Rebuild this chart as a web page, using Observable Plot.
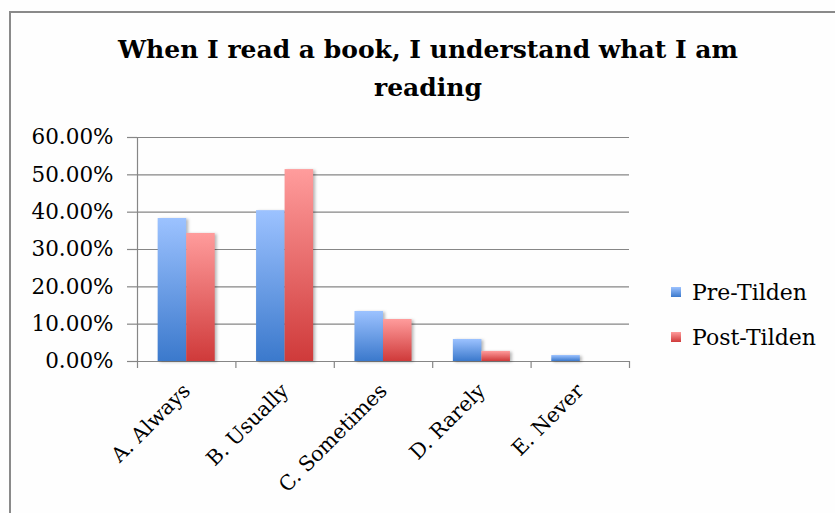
<!DOCTYPE html>
<html><head><meta charset="utf-8">
<script src="https://cdn.jsdelivr.net/npm/d3@7"></script>
<script src="https://cdn.jsdelivr.net/npm/@observablehq/plot@0.6"></script>
<style>
body{margin:0;background:#fff;}
#wrap{position:relative;width:835px;height:513px;overflow:hidden;font-family:"DejaVu Serif",serif;background:#fefefe;}
#frame{position:absolute;left:9px;top:11px;width:840px;height:520px;border:2px solid #8a8a8a;box-sizing:border-box;}
#title{position:absolute;left:68px;top:31px;width:720px;text-align:center;font-weight:bold;font-size:25px;line-height:38px;color:#000;}
#legend{position:absolute;left:671px;top:280px;font-size:22px;color:#000;}
.item{display:flex;align-items:center;height:24px;margin-bottom:21px;}
.sw{width:10px;height:10px;margin-right:11px;}
#chart{position:absolute;left:0;top:0;}
#chart rect.bar{filter:drop-shadow(2px 1px 1.5px rgba(0,0,0,0.28));}
</style></head>
<body>
<div id="wrap">
<div id="frame"></div>
<div id="chart"></div>
<div id="title">When I read a book, I understand what I am reading</div>
<div id="legend"></div>
</div>
<script>
const categories = ["A. Always","B. Usually","C. Sometimes","D. Rarely","E. Never"];
const seriesNames = ["Pre-Tilden","Post-Tilden"];
const preTilden  = [0.383,0.404,0.134,0.059,0.016];
const postTilden = [0.343,0.514,0.1125,0.027,0.0];
const yTicks = [0,0.1,0.2,0.3,0.4,0.5,0.6];

const gradients = {
  "Pre-Tilden":  ["#9cc2ff","#3b79cc"],
  "Post-Tilden": ["#ff9c9c","#cf3a3a"]
};

const barW = 0.29, gap = 0.21;
const rows = [];
categories.forEach((c,i)=>{
  [preTilden, postTilden].forEach((arr,s)=>{
    rows.push({category:c, series:seriesNames[s], i, s, value:arr[i],
      x1: i + gap + s*barW, x2: i + gap + (s+1)*barW});
  });
});

const chart = Plot.plot({
  width:835, height:513,
  marginTop:137, marginBottom:152, marginLeft:137, marginRight:206,
  style:{fontFamily:"DejaVu Serif", fontSize:"20px", color:"#000", background:"transparent", overflow:"visible"},
  x:{domain:[0,categories.length], axis:null, label:null},
  y:{domain:[0,0.6], axis:null, label:null},
  marks:[
    Plot.gridY(yTicks, {stroke:"#868686", strokeOpacity:1, strokeWidth:1.2}),
    Plot.axisY(yTicks, {tickSize:10, tickPadding:14, tickFormat:d3.format(".2%"), stroke:"#868686", strokeWidth:1.2, fontSize:21.5, label:null}),
    Plot.ruleX([0], {stroke:"#868686", strokeWidth:1.2}),
    Plot.axisX(d3.range(categories.length+1), {tickSize:7, tickFormat:()=>"", stroke:"#868686", strokeWidth:1.2, label:null}),
    Plot.axisX(categories.map((c,i)=>i+0.5), {tickSize:0, tickPadding:26, tickRotate:-45, fontSize:20.5, label:null,
      tickFormat:d=>categories[Math.floor(d)]}),
    Plot.rectY(rows.filter(d=>d.series==="Pre-Tilden" && d.value>0), {x1:"x1", x2:"x2", y:"value", fill:"url(#gPre)", className:"bar"}),
    Plot.rectY(rows.filter(d=>d.series==="Post-Tilden" && d.value>0), {x1:"x1", x2:"x2", y:"value", fill:"url(#gPost)", className:"bar"})
  ]
});

const ns = "http://www.w3.org/2000/svg";
const defs = document.createElementNS(ns,"defs");
defs.innerHTML =
  `<linearGradient id="gPre" x1="0" y1="0" x2="0" y2="1"><stop offset="0" stop-color="${gradients["Pre-Tilden"][0]}"/><stop offset="1" stop-color="${gradients["Pre-Tilden"][1]}"/></linearGradient>` +
  `<linearGradient id="gPost" x1="0" y1="0" x2="0" y2="1"><stop offset="0" stop-color="${gradients["Post-Tilden"][0]}"/><stop offset="1" stop-color="${gradients["Post-Tilden"][1]}"/></linearGradient>`;
chart.prepend(defs);
chart.querySelectorAll("g.bar rect, g[class*='bar'] rect").forEach(r=>r.classList.add("bar"));
document.getElementById("chart").appendChild(chart);

const legend = document.getElementById("legend");
seriesNames.forEach(n=>{
  const it = document.createElement("div"); it.className="item";
  const sw = document.createElement("div"); sw.className="sw";
  sw.style.background = `linear-gradient(${gradients[n][0]}, ${gradients[n][1]})`;
  const t = document.createElement("span"); t.textContent = n;
  it.append(sw,t); legend.appendChild(it);
});
</script>
</body></html>
